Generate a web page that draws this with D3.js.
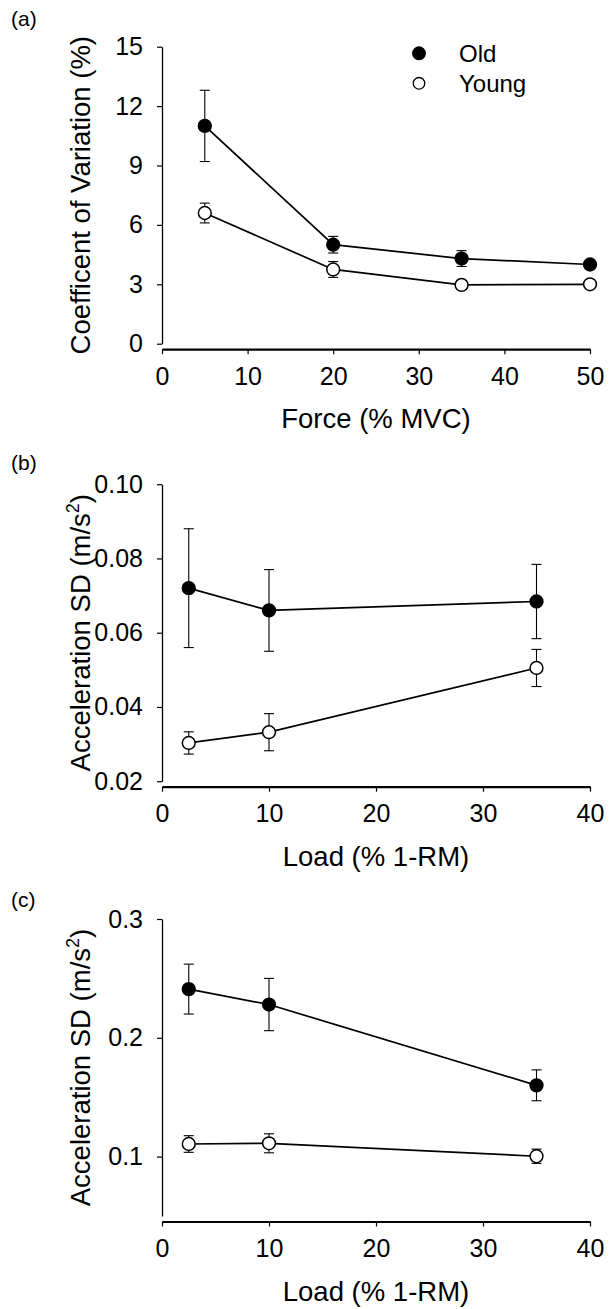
<!DOCTYPE html>
<html>
<head>
<meta charset="utf-8">
<script src="https://cdn.jsdelivr.net/npm/d3@7"></script>
<style>
  html, body { margin: 0; padding: 0; background: #fff; }
  svg { display: block; }
  text { font-family: "Liberation Sans", Arial, Helvetica, sans-serif; fill: #000; }
</style>
</head>
<body>
<svg id="chart" width="611" height="1309"></svg>
<script>
// ---- Panel (a): coefficient of variation vs. force ----
const forceLevels = [5, 20, 35, 50];
const cvOld       = [11.0, 5.0, 4.3, 4.0];
const cvOldErr    = [1.8, 0.42, 0.4, 0.12];
const cvYoung     = [6.6, 3.75, 2.97, 3.0];
const cvYoungErr  = [0.5, 0.4, 0.1, 0.1];
const forceTicks  = [0, 10, 20, 30, 40, 50];
const cvTicks     = [0, 3, 6, 9, 12, 15];

// ---- Panels (b) and (c): acceleration SD vs. load ----
const loadLevels   = [2.5, 10, 35];
const loadTicks    = [0, 10, 20, 30, 40];
const accBOld      = [0.072, 0.066, 0.0684];
const accBOldErr   = [0.016, 0.011, 0.010];
const accBYoung    = [0.0303, 0.0332, 0.0505];
const accBYoungErr = [0.003, 0.005, 0.005];
const accBTicks    = [0.02, 0.04, 0.06, 0.08, 0.10];
const accCOld      = [0.241, 0.228, 0.160];
const accCOldErr   = [0.021, 0.022, 0.013];
const accCYoung    = [0.1106, 0.1112, 0.1003];
const accCYoungErr = [0.007, 0.008, 0.006];
const accCTicks    = [0.1, 0.2, 0.3];

const groups = ["Old", "Young"];

const panels = [
  { tag: "(a)", top: 46.7, labelY: 26, xDomain: [0, 50], xTicks: forceTicks,
    yDomain: [0, 15], yTicks: cvTicks, yFormat: d3.format("d"),
    xs: forceLevels, old: cvOld, oldErr: cvOldErr, young: cvYoung, youngErr: cvYoungErr,
    xTitle: "Force (% MVC)", yTitle: "Coefficent of Variation (%)", sup: false, legend: true },
  { tag: "(b)", top: 484.2, labelY: 470, xDomain: [0, 40], xTicks: loadTicks,
    yDomain: [0.02, 0.10], yTicks: accBTicks, yFormat: d3.format(".2f"),
    xs: loadLevels, old: accBOld, oldErr: accBOldErr, young: accBYoung, youngErr: accBYoungErr,
    xTitle: "Load (% 1-RM)", yTitle: "Acceleration SD (m/s", sup: true, legend: false },
  { tag: "(c)", top: 919, labelY: 907, xDomain: [0, 40], xTicks: loadTicks,
    yDomain: [0.05, 0.3], yTicks: accCTicks, yFormat: d3.format(".1f"),
    xs: loadLevels, old: accCOld, oldErr: accCOldErr, young: accCYoung, youngErr: accCYoungErr,
    xTitle: "Load (% 1-RM)", yTitle: "Acceleration SD (m/s", sup: true, legend: false }
];

const svg = d3.select("#chart");
const left = 162, right = 590, plotH = 297;
const r = 6.4, capHalf = 5;

panels.forEach(p => {
  const bottom = p.top + plotH;
  const axisY = bottom + 5.5;
  const x = d3.scaleLinear().domain(p.xDomain).range([left, right]);
  const y = d3.scaleLinear().domain(p.yDomain).range([bottom, p.top]);
  const g = svg.append("g");

  // panel tag
  g.append("text").attr("x", 11).attr("y", p.labelY)
    .attr("font-size", 21).text(p.tag);

  // y axis
  const ya = g.append("g").attr("transform", `translate(${left},0)`)
    .call(d3.axisLeft(y).tickValues(p.yTicks).tickFormat(p.yFormat)
      .tickSize(5).tickSizeOuter(0).tickPadding(14));
  ya.select(".domain").attr("stroke-width", 1.3);
  ya.selectAll(".tick line").attr("stroke-width", 1.2);
  ya.selectAll(".tick text").attr("font-size", 25).attr("font-family", null);

  // x axis (offset slightly below the y range)
  const xa = g.append("g").attr("transform", `translate(0,${axisY})`)
    .call(d3.axisBottom(x).tickValues(p.xTicks).tickFormat(d3.format("d"))
      .tickSize(5).tickSizeOuter(0).tickPadding(13));
  xa.select(".domain").attr("stroke-width", 2.2);
  xa.selectAll(".tick line").attr("stroke-width", 1.2);
  xa.selectAll(".tick text").attr("font-size", 25).attr("font-family", null);

  // axis titles
  g.append("text").attr("x", (left + right) / 2).attr("y", axisY + 79)
    .attr("text-anchor", "middle").attr("font-size", 27.5).text(p.xTitle);
  const yt = g.append("text")
    .attr("transform", `translate(90,${(p.top + bottom) / 2}) rotate(-90)`)
    .attr("text-anchor", "middle").attr("font-size", 27.5).text(p.yTitle);
  if (p.sup) {
    yt.append("tspan").attr("font-size", 18).attr("dy", -11).text("2");
    yt.append("tspan").attr("dy", 11).text(")");
  }

  const series = [
    { name: "Old", vals: p.old, errs: p.oldErr, fill: "#000" },
    { name: "Young", vals: p.young, errs: p.youngErr, fill: "#fff" }
  ];
  const line = d3.line().x(d => x(d.x)).y(d => y(d.v));

  series.forEach(s => {
    const pts = p.xs.map((xv, i) => ({ x: xv, v: s.vals[i], e: s.errs[i] }));
    g.append("path").datum(pts).attr("d", line)
      .attr("fill", "none").attr("stroke", "#000").attr("stroke-width", 1.7);
    const eb = g.append("g").attr("stroke", "#000").attr("stroke-width", 1.1);
    pts.forEach(d => {
      const cx = x(d.x), y1 = y(d.v + d.e), y2 = y(d.v - d.e);
      eb.append("line").attr("x1", cx).attr("x2", cx).attr("y1", y1).attr("y2", y2);
      eb.append("line").attr("x1", cx - capHalf).attr("x2", cx + capHalf).attr("y1", y1).attr("y2", y1);
      eb.append("line").attr("x1", cx - capHalf).attr("x2", cx + capHalf).attr("y1", y2).attr("y2", y2);
    });
  });
  series.forEach(s => {
    g.selectAll(null).data(p.xs.map((xv, i) => ({ x: xv, v: s.vals[i] })))
      .join("circle")
      .attr("cx", d => x(d.x)).attr("cy", d => y(d.v)).attr("r", r)
      .attr("fill", s.fill).attr("stroke", "#000").attr("stroke-width", 1.5);
  });

  if (p.legend) {
    const lg = g.append("g");
    groups.forEach((name, i) => {
      const cy = 53.3 + i * 30;
      lg.append("circle").attr("cx", 419).attr("cy", cy).attr("r", i === 0 ? 6.3 : 5.8)
        .attr("fill", i === 0 ? "#000" : "#fff").attr("stroke", "#000").attr("stroke-width", 1.3);
      lg.append("text").attr("x", 459).attr("y", cy + 8.5).attr("font-size", 24).text(name);
    });
  }
});
</script>
</body>
</html>
